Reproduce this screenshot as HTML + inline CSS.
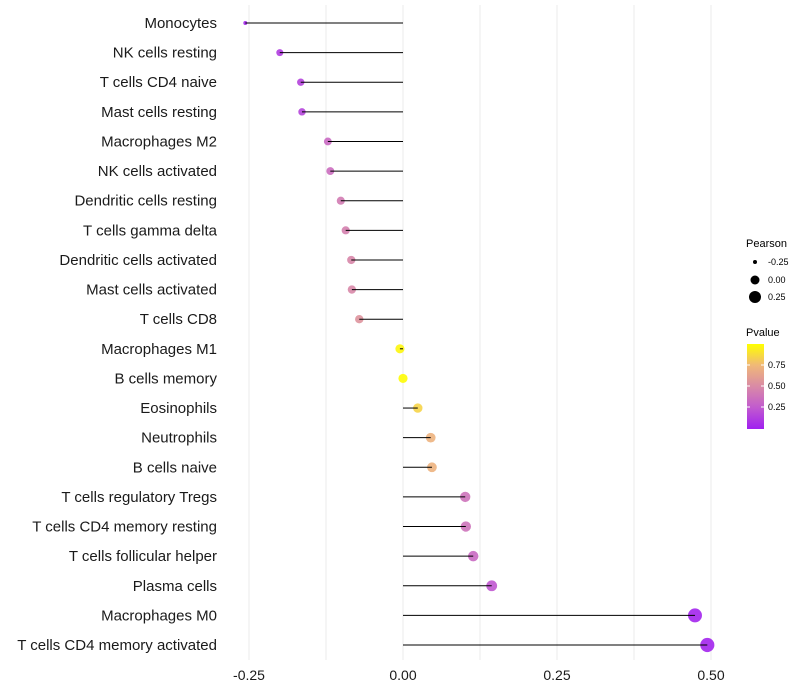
<!DOCTYPE html>
<html><head><meta charset="utf-8"><style>
body{margin:0;background:#fff;font-family:"Liberation Sans",sans-serif}
svg{display:block}
</style></head><body>
<svg id="chart" width="800" height="700">
<defs><linearGradient id="pg" x1="0" y1="1" x2="0" y2="0">
<stop offset="0" stop-color="#A020F0"/><stop offset="0.25" stop-color="#C15ACF"/><stop offset="0.5" stop-color="#D98AA6"/><stop offset="0.75" stop-color="#F0B878"/><stop offset="1" stop-color="#FFFF00"/></linearGradient></defs>
<g id="grid"></g><g id="marks"></g><g id="labels"></g><g id="xticks"></g>
<g font-size="10" fill="#000">
<text x="746" y="247" font-size="11">Pearson</text>
<circle cx="755" cy="262" r="2"/><text x="768" y="265" font-size="9">-0.25</text>
<circle cx="755" cy="280" r="4.5"/><text x="768" y="283" font-size="9">0.00</text>
<circle cx="755" cy="297" r="6"/><text x="768" y="300" font-size="9">0.25</text>
<text x="746" y="336" font-size="11">Pvalue</text>
<rect x="747" y="344" width="17" height="85" fill="url(#pg)"/>
<g stroke="#fff" stroke-width="1"><line x1="747" x2="750" y1="365" y2="365"/><line x1="761" x2="764" y1="365" y2="365"/><line x1="747" x2="750" y1="386" y2="386"/><line x1="761" x2="764" y1="386" y2="386"/><line x1="747" x2="750" y1="407" y2="407"/><line x1="761" x2="764" y1="407" y2="407"/></g>
<text x="768" y="368" font-size="9">0.75</text><text x="768" y="389" font-size="9">0.50</text><text x="768" y="410" font-size="9">0.25</text>
</g>
</svg>
<script>
const categories=["Monocytes","NK cells resting","T cells CD4 naive","Mast cells resting","Macrophages M2","NK cells activated","Dendritic cells resting","T cells gamma delta","Dendritic cells activated","Mast cells activated","T cells CD8","Macrophages M1","B cells memory","Eosinophils","Neutrophils","B cells naive","T cells regulatory  Tregs ","T cells CD4 memory resting","T cells follicular helper","Plasma cells","Macrophages M0","T cells CD4 memory activated"];
const pearson=[-0.256,-0.200,-0.166,-0.164,-0.122,-0.118,-0.101,-0.093,-0.084,-0.083,-0.071,-0.005,0.0,0.024,0.045,0.047,0.101,0.102,0.114,0.144,0.474,0.494];
const pvalue=[0.03,0.12,0.15,0.16,0.33,0.35,0.42,0.45,0.48,0.49,0.55,0.97,0.99,0.85,0.72,0.72,0.38,0.38,0.33,0.24,0.02,0.02];
const xTicks=[-0.25,0,0.25,0.5];
const xTickLabels=["-0.25","0.00","0.25","0.50"];
const NS="http://www.w3.org/2000/svg";
const x=v=>403+v*616;
const y=i=>23+i*(622/21);
const sz=[[-0.256,2],[-0.2,3.5],[0,4.6],[0.25,6],[0.5,7.1]];
function r(v){for(let k=1;k<sz.length;k++){if(v<=sz[k][0]||k==sz.length-1){const a=sz[k-1],b=sz[k];return a[1]+(b[1]-a[1])*(v-a[0])/(b[0]-a[0]);}}}
const stops=[[0,[160,32,240]],[0.25,[193,90,207]],[0.5,[217,138,166]],[0.75,[240,184,120]],[1,[255,255,0]]];
function col(p){for(let k=1;k<stops.length;k++){if(p<=stops[k][0]){const a=stops[k-1],b=stops[k],t=(p-a[0])/(b[0]-a[0]);return "rgb("+a[1].map((c,j)=>Math.round(c+(b[1][j]-c)*t)).join(",")+")";}}return "rgb(255,255,0)";}
function mk(t,at,parent){const e=document.createElementNS(NS,t);for(const k in at)e.setAttribute(k,at[k]);document.getElementById(parent).appendChild(e);return e;}
[-0.25,-0.125,0,0.125,0.25,0.375,0.5].forEach(v=>{const g=mk("line",{x1:x(v),x2:x(v),y1:5,y2:660,stroke:"#ebebeb","stroke-width":1},"grid");

});
categories.forEach((c,i)=>{
const cy=y(i);
const pt=mk("circle",{cx:x(pearson[i]),cy:cy,r:r(pearson[i]),fill:col(pvalue[i]),"fill-opacity":0.9},"marks");


const ln=mk("line",{x1:x(0),x2:x(pearson[i]),y1:cy,y2:cy,stroke:"#000","stroke-width":1},"marks");


const t=mk("text",{x:217,y:cy+5,"text-anchor":"end","font-size":15,fill:"#1a1a1a"},"labels");
t.textContent=c;


});
xTicks.forEach((v,i)=>{const t=mk("text",{x:x(v),y:680,"text-anchor":"middle","font-size":14,fill:"#1a1a1a"},"xticks");
t.textContent=xTickLabels[i];

});
</script>
</body></html>
